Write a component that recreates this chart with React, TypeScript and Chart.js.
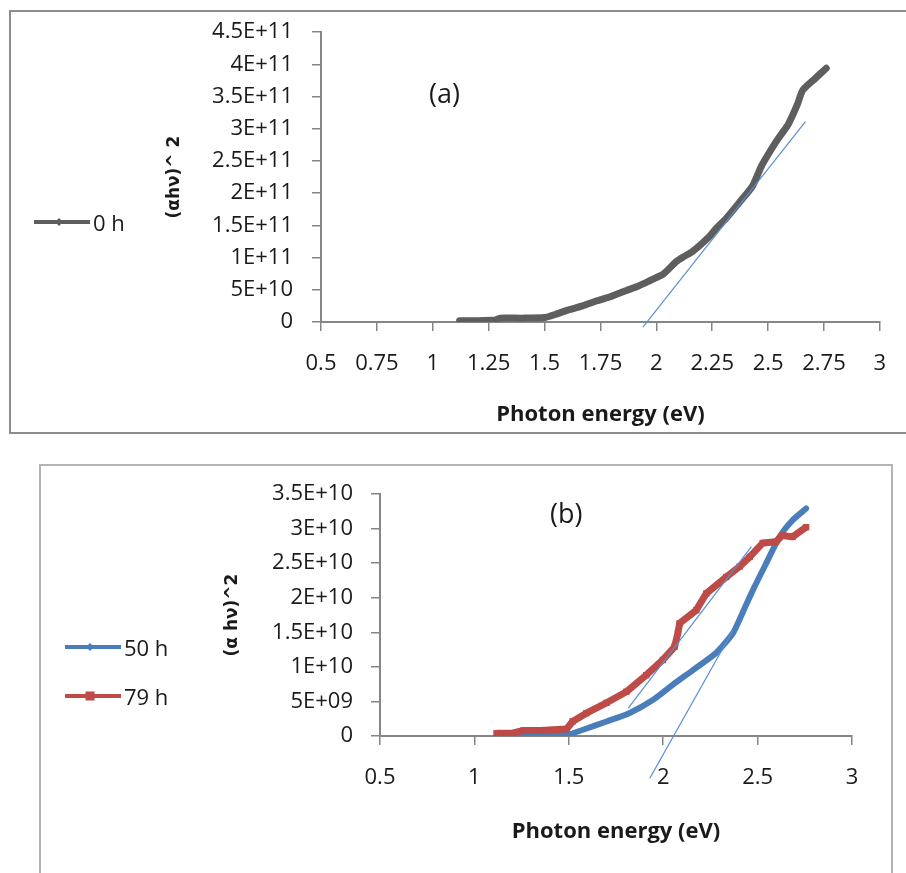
import React, { useEffect, useRef } from "react";
import { Chart, registerables } from "chart.js";

Chart.register(...registerables);

// ---------- data ----------
// Panel (a): 0 h
const energy0h = [1.12, 1.2, 1.28, 1.3, 1.4, 1.5, 1.55, 1.6, 1.67, 1.735, 1.8, 1.867, 1.92, 1.97, 2.0, 2.03, 2.09, 2.12, 2.16, 2.235, 2.27, 2.31, 2.37, 2.43, 2.47, 2.5, 2.53, 2.56, 2.59, 2.63, 2.655, 2.71, 2.76];
const abs0h = [0.2e10, 0.2e10, 0.3e10, 0.6e10, 0.6e10, 0.7e10, 1.2e10, 1.8e10, 2.5e10, 3.3e10, 4.0e10, 4.9e10, 5.6e10, 6.4e10, 6.9e10, 7.4e10, 9.4e10, 10.1e10, 10.9e10, 13.2e10, 14.6e10, 16.0e10, 18.5e10, 21.1e10, 24.2e10, 26.0e10, 27.7e10, 29.2e10, 30.7e10, 33.7e10, 36.0e10, 37.8e10, 39.4e10];
const tangentAEnergy = [1.94, 2.667];
const tangentAValue = [-0.08e11, 3.11e11];

// Panel (b): 50 h and 79 h
const energy50h = [1.12, 1.2, 1.3, 1.495, 1.575, 1.7, 1.82, 1.945, 2.05, 2.156, 2.28, 2.37, 2.42, 2.475, 2.546, 2.616, 2.685, 2.757];
const abs50h = [0, 0, 0.1e9, 0.2e9, 0.9e9, 2.1e9, 3.3e9, 5.2e9, 7.4e9, 9.5e9, 12.0e9, 14.9e9, 17.8e9, 21.1e9, 25.0e9, 28.8e9, 31.2e9, 32.9e9];
const energy79h = [1.117, 1.2, 1.26, 1.35, 1.488, 1.52, 1.593, 1.7, 1.805, 1.91, 1.998, 2.06, 2.078, 2.087, 2.175, 2.228, 2.334, 2.405, 2.458, 2.527, 2.598, 2.63, 2.685, 2.757];
const abs79h = [0.4e9, 0.4e9, 0.8e9, 0.8e9, 1.0e9, 2.1e9, 3.3e9, 4.8e9, 6.4e9, 8.8e9, 11.0e9, 12.9e9, 14.9e9, 16.3e9, 18.2e9, 20.6e9, 23.0e9, 24.5e9, 25.9e9, 27.9e9, 28.1e9, 29.0e9, 28.8e9, 30.2e9];
const tangentB1Energy = [1.814, 2.467];
const tangentB1Value = [4.0e9, 27.4e9];
const tangentB2Energy = [1.929, 2.37];
const tangentB2Value = [-6.1e9, 15.3e9];

// tick labels
const xTicksA = ["0.5", "0.75", "1", "1.25", "1.5", "1.75", "2", "2.25", "2.5", "2.75", "3"];
const yTicksA = ["0", "5E+10", "1E+11", "1.5E+11", "2E+11", "2.5E+11", "3E+11", "3.5E+11", "4E+11", "4.5E+11"];
const xTicksB = ["0.5", "1", "1.5", "2", "2.5", "3"];
const yTicksB = ["0", "5E+09", "1E+10", "1.5E+10", "2E+10", "2.5E+10", "3E+10", "3.5E+10"];

const xTitle = "Photon energy (eV)";
const yTitleA = "(\u03b1h\u03bd)^ 2";
const yTitleB = "(\u03b1 h\u03bd)^2";

// ---------- styling ----------
const GRAY = "#5e5e5e";
const BLUE = "#4a7ebb";
const RED = "#be4b48";
const TANGENT = "#5b8fd0";
const AXIS = "#868686";
const TEXT = "#1a1a1a";
const FONT = "'Open Sans'";

const pts = (xs: number[], ys: number[]) => xs.map((x, i) => ({ x, y: ys[i] }));

const tickLabel = (labels: string[]) => (value: number) => {
  const hit = labels.find((l) => Math.abs(Number(l) - value) <= Math.abs(value) * 1e-6 + 1e-9);
  return hit ?? "";
};

interface PanelSpec {
  width: number;
  height: number;
  padding: { left: number; top: number; right: number; bottom: number };
  yAxisWidth: number;
  xAxisHeight: number;
  yTitle: string;
  yTitlePad: number;
  yTickPad: number;
  xTickPad: number;
  xLabels: string[];
  yLabels: string[];
  datasets: any[];
}

function axisCommon() {
  return {
    grid: { display: true, drawOnChartArea: false, drawTicks: true, tickLength: 9, color: AXIS, lineWidth: 1.5 },
    border: { display: true, color: AXIS, width: 2 },
  };
}

function Panel({ spec }: { spec: PanelSpec }) {
  const ref = useRef<HTMLCanvasElement | null>(null);
  useEffect(() => {
    if (!ref.current) return;
    const xl = spec.xLabels;
    const yl = spec.yLabels;
    const chart = new Chart(ref.current, {
      type: "scatter",
      data: { datasets: spec.datasets },
      options: {
        responsive: false,
        animation: false,
        events: [],
        layout: { padding: spec.padding },
        plugins: { legend: { display: false }, tooltip: { enabled: false }, title: { display: false } },
        scales: {
          x: {
            type: "linear",
            position: "bottom",
            min: Number(xl[0]),
            max: Number(xl[xl.length - 1]),
            afterFit: (s: any) => {
              s.height = spec.xAxisHeight;
            },
            ticks: {
              stepSize: Number(xl[1]) - Number(xl[0]),
              autoSkip: false,
              maxRotation: 0,
              padding: spec.xTickPad,
              color: TEXT,
              font: { family: FONT, size: 22 },
              callback: tickLabel(xl),
            },
            title: {
              display: true,
              text: xTitle,
              color: TEXT,
              font: { family: FONT, size: 22, weight: "bold" },
              padding: { top: 0, bottom: 0 },
            },
            ...axisCommon(),
          },
          y: {
            type: "linear",
            min: Number(yl[0]),
            max: Number(yl[yl.length - 1]),
            afterFit: (s: any) => {
              s.width = spec.yAxisWidth;
            },
            ticks: {
              stepSize: Number(yl[1]) - Number(yl[0]),
              autoSkip: false,
              padding: spec.yTickPad,
              color: TEXT,
              font: { family: FONT, size: 22 },
              callback: tickLabel(yl),
            },
            title: {
              display: true,
              text: spec.yTitle,
              color: TEXT,
              font: { family: "DejaVu Sans", size: 17, weight: "bold" },
              padding: { top: spec.yTitlePad, bottom: 0 },
            },
            ...axisCommon(),
          },
        },
      } as any,
    });
    return () => chart.destroy();
  }, [spec]);
  return <canvas ref={ref} width={spec.width} height={spec.height} style={{ display: "block" }} />;
}

const specA: PanelSpec = {
  width: 906,
  height: 440,
  padding: { left: 150, top: 26, right: 19, bottom: 11.8 },
  yAxisWidth: 171,
  xAxisHeight: 106.2,
  yTitle: yTitleA,
  yTitlePad: 14.7,
  yTickPad: 19,
  xTickPad: 19.8,
  xLabels: xTicksA,
  yLabels: yTicksA,
  datasets: [
    { label: "tangent", data: pts(tangentAEnergy, tangentAValue), showLine: true, borderColor: TANGENT, borderWidth: 1.2, pointRadius: 0, clip: false, order: 0 },
    { label: "0 h", data: pts(energy0h, abs0h), showLine: true, borderColor: GRAY, backgroundColor: GRAY, borderWidth: 7, pointRadius: 0, tension: 0.2, borderCapStyle: "round", borderJoinStyle: "round", order: 1 },
  ],
};

const specB: PanelSpec = {
  width: 906,
  height: 423,
  padding: { left: 200, top: 44, right: 54, bottom: 27.8 },
  yAxisWidth: 180,
  xAxisHeight: 109.2,
  yTitle: yTitleB,
  yTitlePad: 22.7,
  yTickPad: 18,
  xTickPad: 19.8,
  xLabels: xTicksB,
  yLabels: yTicksB,
  datasets: [
    { label: "tangent 79 h", data: pts(tangentB1Energy, tangentB1Value), showLine: true, borderColor: TANGENT, borderWidth: 1.2, pointRadius: 0, clip: false, order: 0 },
    { label: "tangent 50 h", data: pts(tangentB2Energy, tangentB2Value), showLine: true, borderColor: TANGENT, borderWidth: 1.2, pointRadius: 0, clip: false, order: 0 },
    { label: "79 h", data: pts(energy79h, abs79h), showLine: true, borderColor: RED, backgroundColor: RED, borderWidth: 7, pointStyle: "rect", pointRadius: 4.5, pointBorderWidth: 0, borderJoinStyle: "round", order: 1 },
    { label: "50 h", data: pts(energy50h, abs50h), showLine: true, borderColor: BLUE, backgroundColor: BLUE, borderWidth: 6, pointRadius: 0, tension: 0.2, borderCapStyle: "round", borderJoinStyle: "round", order: 2 },
  ],
};

function LegendEntry({ left, top, color, label, marker }: { left: number; top: number; color: string; label: string; marker: "diamond" | "square" }) {
  return (
    <div style={{ position: "absolute", left, top: top - 13, height: 26, display: "flex", alignItems: "center" }}>
      <svg width={58} height={26} style={{ display: "block" }}>
        <line x1={1} y1={13} x2={57} y2={13} stroke={color} strokeWidth={4} />
        {marker === "diamond" ? (
          <polygon points="26,9 30,13 26,17 22,13" fill={color} />
        ) : (
          <rect x={21.5} y={8.5} width={9} height={9} fill={color} />
        )}
      </svg>
      <span style={{ fontFamily: FONT, fontSize: 22, lineHeight: "26px", color: TEXT, marginLeft: 2, whiteSpace: "nowrap" }}>{label}</span>
    </div>
  );
}

export default function App() {
  return (
    <div style={{ position: "absolute", left: 0, top: 0, width: 906, height: 873, overflow: "hidden", background: "#fff" }}>
      {/* frame (a) */}
      <div style={{ position: "absolute", left: 9, top: 10, width: 905, height: 424, border: "2px solid #8c8c8c", boxSizing: "border-box" }} />
      {/* frame (b) */}
      <div style={{ position: "absolute", left: 39, top: 464, width: 854, height: 430, border: "2px solid #b4b4b4", boxSizing: "border-box" }} />
      <div style={{ position: "absolute", left: 0, top: 0 }}>
        <Panel spec={specA} />
      </div>
      <div style={{ position: "absolute", left: 0, top: 450 }}>
        <Panel spec={specB} />
      </div>
      <div style={{ position: "absolute", left: 429, top: 75, fontFamily: FONT, fontSize: 27, lineHeight: "36px", color: TEXT }}>(a)</div>
      <div style={{ position: "absolute", left: 550, top: 495, fontFamily: FONT, fontSize: 27, lineHeight: "36px", color: TEXT }}>(b)</div>
      <LegendEntry left={33} top={222} color={GRAY} label="0 h" marker="diamond" />
      <LegendEntry left={64} top={647} color={BLUE} label="50 h" marker="diamond" />
      <LegendEntry left={64} top={696} color={RED} label="79 h" marker="square" />
    </div>
  );
}
